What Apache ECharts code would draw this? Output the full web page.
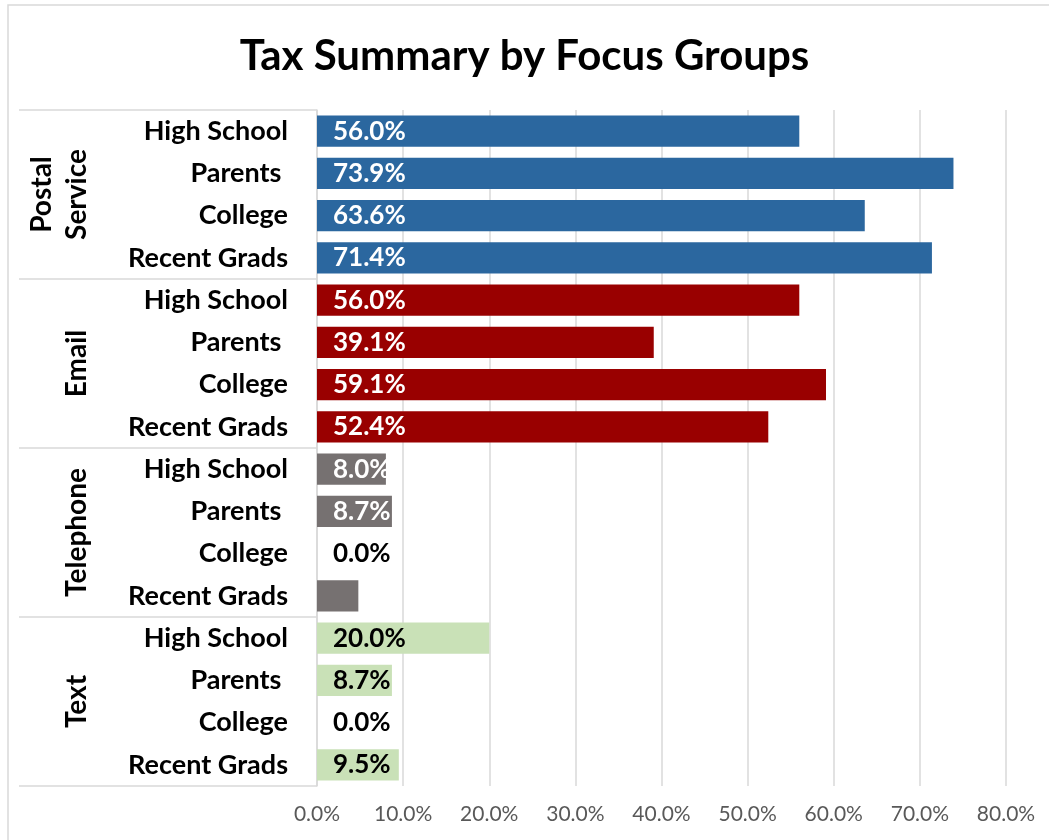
<!DOCTYPE html>
<html>
<head>
<meta charset="utf-8">
<script src="https://cdn.jsdelivr.net/npm/echarts@6/dist/echarts.min.js"></script>
<style>
  html, body { margin: 0; padding: 0; background: #ffffff; }
  #chart { width: 1049px; height: 840px; }
</style>
</head>
<body>
<div id="chart"></div>
<script>
// Contact channels (outer groups) and audiences (rows inside each group)
const channels = ['Postal\nService', 'Email', 'Telephone', 'Text'];
const audiences = ['High School', 'Parents ', 'College', 'Recent Grads'];

// Share of each audience reached through each channel, in percent
const postalValues = [56.0, 73.9, 63.6, 71.4];
const emailValues = [56.0, 39.1, 59.1, 52.4];
const telephoneValues = [8.0, 8.7, 0.0, 4.8];
const textValues = [20.0, 8.7, 0.0, 9.5];

// Rows whose value label is left off (channel index, audience index)
const unlabeled = [[2, 3]];

const axisTicks = [0, 10, 20, 30, 40, 50, 60, 70, 80];

const channelColors = ['#2B679F', '#990000', '#767171', '#C9E1B7'];
const labelColors = ['#ffffff', '#ffffff', '#ffffff', '#000000'];

const FONT = 'Lato, "Open Sans", sans-serif';

const groups = [postalValues, emailValues, telephoneValues, textValues];
const rowNames = [];
const rowData = [];
groups.forEach((vals, g) => {
  vals.forEach((v, i) => {
    rowNames.push(audiences[i]);
    const hide = unlabeled.some(p => p[0] === g && p[1] === i);
    rowData.push({
      value: v,
      itemStyle: { color: channelColors[g] },
      label: {
        show: !hide,
        color: v === 0 ? '#000000' : labelColors[g]
      }
    });
  });
});

const chart = echarts.init(document.getElementById('chart'), null, { renderer: 'canvas' });

chart.setOption({
  backgroundColor: '#ffffff',
  animation: false,
  title: {
    text: 'Tax Summary by Focus Groups',
    left: 'center',
    top: 30,
    textStyle: { fontFamily: FONT, fontWeight: 'bold', fontSize: 42, color: '#000000' }
  },
  graphic: [{
    type: 'rect',
    shape: { x: 8, y: 5, width: 1060, height: 860 },
    style: { fill: 'none', stroke: '#d9d9d9', lineWidth: 1.5 },
    silent: true
  }],
  grid: { left: 317, right: 43, top: 110, bottom: 54 },
  xAxis: {
    type: 'value',
    min: axisTicks[0],
    max: axisTicks[axisTicks.length - 1],
    interval: 10,
    axisLine: { show: false },
    axisTick: { show: false },
    splitLine: { lineStyle: { color: '#d9d9d9', width: 1.5 } },
    axisLabel: {
      fontFamily: FONT,
      fontSize: 21,
      color: '#595959',
      margin: 18,
      formatter: v => v.toFixed(1) + '%'
    }
  },
  yAxis: [{
    type: 'category',
    data: rowNames,
    inverse: true,
    axisLine: { show: true, lineStyle: { color: '#d9d9d9', width: 1.5 } },
    axisTick: { show: false },
    axisLabel: {
      fontFamily: FONT,
      fontSize: 27,
      fontWeight: 'bold',
      color: '#000000',
      margin: 29
    }
  }, {
    type: 'category',
    data: channels,
    inverse: true,
    position: 'left',
    axisLine: { show: false },
    axisTick: {
      show: true,
      length: 298,
      lineStyle: { color: '#d9d9d9', width: 1.5 }
    },
    axisLabel: {
      rotate: 90,
      fontFamily: FONT,
      fontSize: 28,
      fontWeight: 'bold',
      color: '#000000',
      lineHeight: 35,
      margin: 223
    }
  }],
  series: [{
    type: 'bar',
    yAxisIndex: 0,
    data: rowData,
    barCategoryGap: '26%',
    label: {
      show: true,
      position: 'insideLeft',
      distance: 16,
      fontFamily: FONT,
      fontSize: 26,
      fontWeight: 'bold',
      formatter: p => p.value.toFixed(1) + '%'
    }
  }]
});
</script>
</body>
</html>
